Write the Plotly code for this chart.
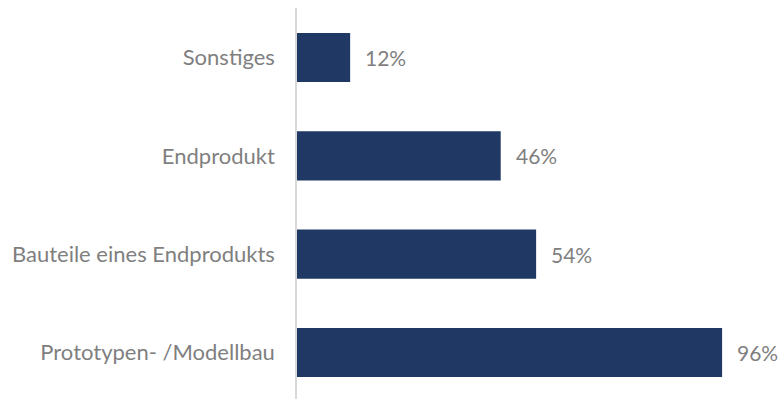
import plotly.graph_objects as go

# Usage categories (bottom to top) and their shares in percent
categories = ["Prototypen- /Modellbau", "Bauteile eines Endprodukts", "Endprodukt", "Sonstiges"]
shares = [96, 54, 46, 12]
value_labels = ["96%", "54%", "46%", "12%"]

BAR_COLOR = "#203864"
TEXT_COLOR = "#7f7f7f"
FONT = "Lato"

fig = go.Figure(
    go.Bar(
        x=shares,
        y=categories,
        orientation="h",
        marker=dict(color=BAR_COLOR, line=dict(width=0)),
        width=0.5,
        hoverinfo="skip",
    )
)

# Percentage labels to the right of each bar
for cat, val, lab in zip(categories, shares, value_labels):
    fig.add_annotation(
        x=val, y=cat, text=lab, xref="x", yref="y",
        xanchor="left", yanchor="middle", xshift=13, showarrow=False,
        font=dict(family=FONT, size=21, color=TEXT_COLOR),
    )

fig.update_layout(
    width=781,
    height=399,
    margin=dict(l=297, r=0, t=8, b=0),
    plot_bgcolor="white",
    paper_bgcolor="white",
    showlegend=False,
    font=dict(family=FONT, size=22, color=TEXT_COLOR),
    xaxis=dict(
        range=[0, 109.3],
        visible=False,
        showgrid=False,
        zeroline=False,
        fixedrange=True,
    ),
    yaxis=dict(
        type="category",
        categoryorder="array",
        categoryarray=categories,
        range=[-0.473, 3.503],
        showline=True,
        linecolor="#d9d9d9",
        linewidth=1.5,
        ticks="",
        ticklabelstandoff=16,
        tickfont=dict(family=FONT, size=22, color=TEXT_COLOR),
        showgrid=False,
        zeroline=False,
        fixedrange=True,
    ),
)

fig.write_html("out.html")
